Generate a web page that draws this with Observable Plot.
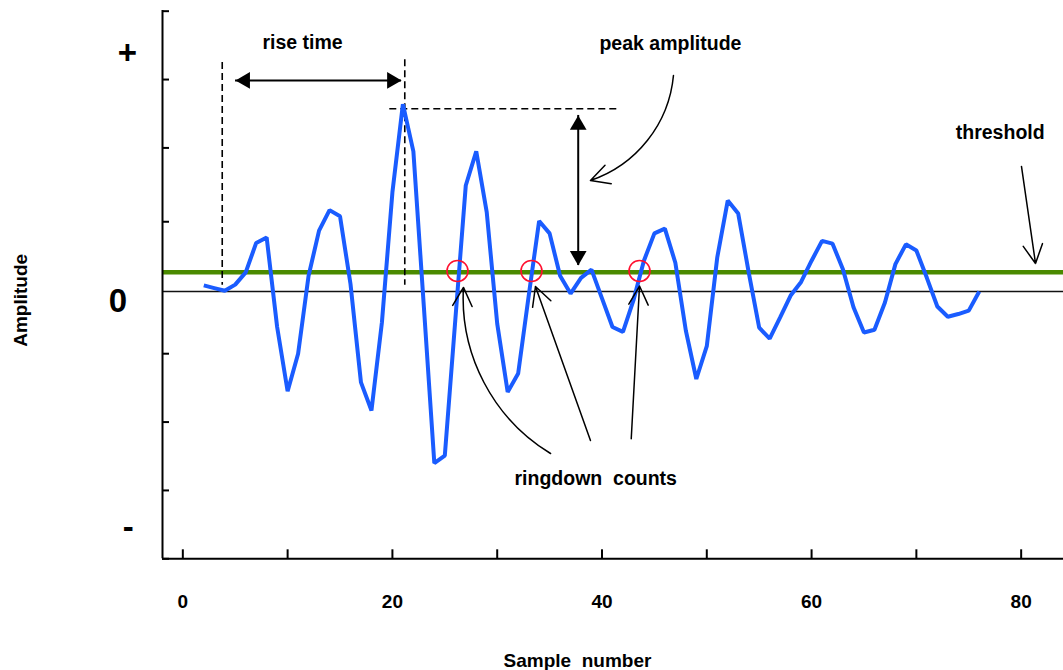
<!DOCTYPE html>
<html>
<head>
<meta charset="utf-8">
<script src="https://cdn.jsdelivr.net/npm/d3@7"></script>
<script src="https://cdn.jsdelivr.net/npm/@observablehq/plot@0.6"></script>
<style>
  html, body { margin: 0; padding: 0; background: #fff; }
  #chart svg { display: block; }
</style>
</head>
<body>
<div id="chart"></div>
<script>
// ---- data ----
const sampleNumber = [2,3,4,5,6,7,8,9,10,11,12,13,14,15,16,17,18,19,20,21,22,23,24,25,26,27,28,29,30,31,32,33,34,35,36,37,38,39,40,41,42,43,44,45,46,47,48,49,50,51,52,53,54,55,56,57,58,59,60,61,62,63,64,65,66,67,68,69,70,71,72,73,74,75,76];
const amplitude = [0.9,0.5,0.1,1.0,2.8,7.1,7.9,-5.2,-14.6,-9.1,2.3,8.9,11.9,11.0,1.1,-13.3,-17.4,-4.5,14.5,27.4,20.5,-2.2,-25.1,-24.0,-4.2,15.5,20.5,11.6,-4.7,-14.7,-12.0,-0.7,10.3,8.5,2.3,-0.3,2.0,3.2,-1.0,-5.2,-5.9,-1.3,4.5,8.5,9.2,4.2,-5.7,-12.8,-8.0,5.0,13.3,11.4,2.8,-5.3,-6.9,-3.8,-0.6,1.4,4.5,7.4,7.0,3.2,-2.3,-6.0,-5.6,-1.6,4.0,6.9,6.0,2.0,-2.2,-3.7,-3.3,-2.8,0.0];
const threshold = 2.8;

const xDomain = [-1.94, 84.04];
const yDomain = [-39.1, 41.1];
const xTicks = [0,10,20,30,40,50,60,70,80];
const xTickLabels = [0,20,40,60,80];
const yTicks = [41.0, 31.0, 21.0, 10.2, -9.1, -19.1, -29.1, -39.1];

// signs shown beside the amplitude axis
const signLabels = [
  {x: -5.3, y: 34.8, text: "+"},
  {x: -6.2, y: -1.5, text: "0"},
  {x: -5.2, y: -34.5, text: "-"}
];

// annotation geometry (data units)
const riseMarkers = [{x: 3.76, y1: 33.5, y2: 0.9}, {x: 21.18, y1: 33.9, y2: 0.9}];
const riseArrow = {x1: 5.03, x2: 20.87, y: 30.87};
const peakLevel = {y: 26.73, x1: 19.75, x2: 41.77};
const peakArrow = {x: 37.73, y1: 25.75, y2: 3.8};
const crossings = [{x: 26.21, y: 3.0}, {x: 33.27, y: 3.0}, {x: 43.58, y: 3.0}];
const peakPointer = [{x1: 46.82, y1: 31.6, x2: 38.9, y2: 16.24}];
const ringCurvedPointer = [{x1: 35.09, y1: -23.7, x2: 26.78, y2: 0.6}];
const straightPointers = [
  {x1: 38.9, y1: -21.8, x2: 33.65, y2: 0.73},
  {x1: 42.79, y1: -21.55, x2: 43.58, y2: 0.8},
  {x1: 80.03, y1: 18.29, x2: 81.37, y2: 4.1}    // threshold
];
const notes = [
  {x: 11.42, y: 36.43, text: "rise time"},
  {x: 46.53, y: 36.28, text: "peak amplitude"},
  {x: 78.0, y: 23.26, text: "threshold"},
  {x: 39.4, y: -27.36, text: "ringdown\u00a0 counts"}
];
const axisTitles = [
  {x: 37.66, y: -54.0, text: "Sample\u00a0 number", rotate: 0},
  {x: -15.49, y: -1.3, text: "Amplitude", rotate: -90}
];

const signal = sampleNumber.map((s, i) => ({sample: s, amplitude: amplitude[i]}));

const FONT = "'Liberation Sans', Arial, Helvetica, sans-serif";
const BLUE = "#1a5cff";
const GREEN = "#4a8a00";
const arrowStyle = {x1: "x1", y1: "y1", x2: "x2", y2: "y2", stroke: "#000", strokeWidth: 1.5, headLength: 21, headAngle: 55};

const plot = Plot.plot({
  width: 1063,
  height: 670,
  marginLeft: 162,
  marginRight: 0,
  marginTop: 10,
  marginBottom: 111.7,
  x: {domain: xDomain, axis: null},
  y: {domain: yDomain, axis: null},
  style: {fontFamily: FONT, fontWeight: "bold", background: "#fff", overflow: "visible"},
  marks: [
    // zero line
    Plot.ruleY([0], {stroke: "#111", strokeWidth: 1.4}),
    // threshold line
    Plot.ruleY([threshold], {stroke: GREEN, strokeWidth: 4.5}),
    // dashed guides
    Plot.ruleX(riseMarkers, {x: "x", y1: "y1", y2: "y2", stroke: "#000", strokeWidth: 1.6, strokeDasharray: "7,4"}),
    Plot.ruleY([peakLevel], {y: "y", x1: "x1", x2: "x2", stroke: "#000", strokeWidth: 1.6, strokeDasharray: "7,4"}),
    // signal
    Plot.line(signal, {x: "sample", y: "amplitude", stroke: BLUE, strokeWidth: 4, strokeLinejoin: "miter", strokeLinecap: "butt"}),
    // filled double arrows
    Plot.ruleY([riseArrow], {y: "y", x1: "x1", x2: "x2", stroke: "#000", strokeWidth: 2}),
    Plot.dot([riseArrow], {x: "x1", y: "y", symbol: "triangle", rotate: -90, r: 6.2, fill: "#000", dx: 9.6}),
    Plot.dot([riseArrow], {x: "x2", y: "y", symbol: "triangle", rotate: 90, r: 6.2, fill: "#000", dx: -9.6}),
    Plot.ruleX([peakArrow], {x: "x", y1: "y1", y2: "y2", stroke: "#000", strokeWidth: 2}),
    Plot.dot([peakArrow], {x: "x", y: "y1", symbol: "triangle", rotate: 0, r: 6.2, fill: "#000", dy: 9.6}),
    Plot.dot([peakArrow], {x: "x", y: "y2", symbol: "triangle", rotate: 180, r: 6.2, fill: "#000", dy: -9.6}),
    // crossing circles
    Plot.dot(crossings, {x: "x", y: "y", r: 10.5, stroke: "#ff1030", strokeWidth: 1.6, fill: "none"}),
    // pointers
    Plot.arrow(peakPointer, {...arrowStyle, bend: 33}),
    Plot.arrow(ringCurvedPointer, {...arrowStyle, bend: 31}),
    Plot.arrow(straightPointers, arrowStyle),
    // axes
    Plot.ruleY([yDomain[0]], {stroke: "#000", strokeWidth: 2}),
    Plot.ruleX([xDomain[0]], {stroke: "#000", strokeWidth: 2}),
    Plot.ruleX(xTicks, {x: (d) => d, y1: yDomain[0], y2: yDomain[0], insetBottom: 9, stroke: "#000", strokeWidth: 2}),
    Plot.ruleY(yTicks, {y: (d) => d, x1: xDomain[0], x2: xDomain[0], insetRight: -7, stroke: "#000", strokeWidth: 2}),
    Plot.text(xTickLabels, {x: (d) => d, y: yDomain[0], dy: 43, text: (d) => String(d), fontSize: 19, fontWeight: "bold", fill: "#000"}),
    // sign labels
    Plot.text(signLabels, {x: "x", y: "y", text: "text", fontSize: 33, fontWeight: "bold", fill: "#000"}),
    // annotations
    Plot.text(notes, {x: "x", y: "y", text: "text", fontSize: 19.5, fontWeight: "bold", fill: "#000"}),
    Plot.text(axisTitles, {x: "x", y: "y", text: "text", rotate: "rotate", fontSize: 19, fontWeight: "bold", fill: "#000"})
  ]
});

document.getElementById("chart").appendChild(plot);
</script>
</body>
</html>
